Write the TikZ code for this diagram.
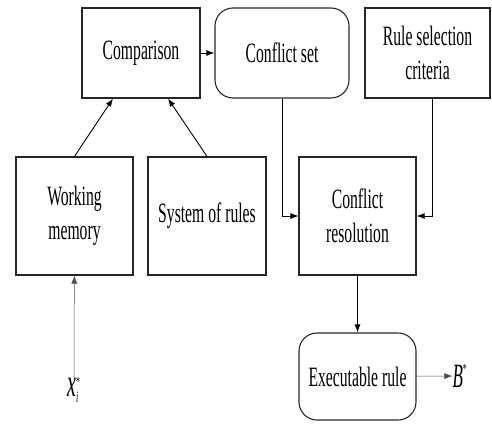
\documentclass[tikz,border=0pt]{standalone}
\usepackage{fontspec}
\setmainfont[FakeStretch=0.56]{Liberation Serif}
\newfontfamily\varfont[FakeStretch=0.5]{Liberation Serif}
\usetikzlibrary{arrows.meta}

\begin{document}
\begin{tikzpicture}[x=1pt,y=-1pt,
      every node/.style={font=\fontsize{28}{34}\selectfont,align=center,inner sep=0pt},
      block/.style={draw,line width=1.1pt,draw=black!85,minimum height=90pt},
      roundblock/.style={block,rounded corners=18pt},
      tall/.style={minimum height=118pt},
      link/.style={line width=0.9pt,-{Latex[length=8pt,width=6pt]}},
      thin link/.style={link,line width=0.5pt,draw=black!70}]
    \useasboundingbox (0,0) rectangle (492,423);
    \node[block,minimum width=118pt] (cmp) at (141,53) {Comparison};
    \node[roundblock,minimum width=134pt] (cset) at (282,53) {Conflict set};
    \node[block,minimum width=125pt] (crit) at (427.5,53) {Rule selection\\criteria};
    \node[block,tall,minimum width=117pt] (wm) at (74.5,216) {Working\\memory};
    \node[block,tall,minimum width=118pt] (sys) at (207,216) {System of rules};
    \node[block,tall,minimum width=117pt] (res) at (357.5,216) {Conflict\\resolution};
    \node[roundblock,minimum width=117pt,minimum height=87pt] (exe) at (357.5,376.5) {Executable rule};
    \node (xi) at (74,390) {$\mbox{\varfont\fontsize{40}{40}\selectfont\itshape x}^{\mbox{\fontsize{14}{14}\selectfont *}}_{\mbox{\varfont\fontsize{16}{16}\selectfont\itshape i}}$};
    \node (bstar) at (460,376) {$\mbox{\varfont\fontsize{34}{34}\selectfont\itshape B}^{\mbox{\fontsize{14}{14}\selectfont *}}$};
    \draw[link] (cmp) -- (cset);
    \draw[link] (wm.north) -- ([xshift=-28pt]cmp.south);
    \draw[link] (sys.north) -- ([xshift=27pt]cmp.south);
    \draw[link] (cset.south) |- (res.west);
    \draw[link] ([xshift=4.5pt]crit.south) |- (res.east);
    \draw[link] (res) -- (exe);
    \draw[thin link] (exe) -- (bstar);
    \draw[thin link] (xi) -- (wm);
  \end{tikzpicture}
\end{document}
